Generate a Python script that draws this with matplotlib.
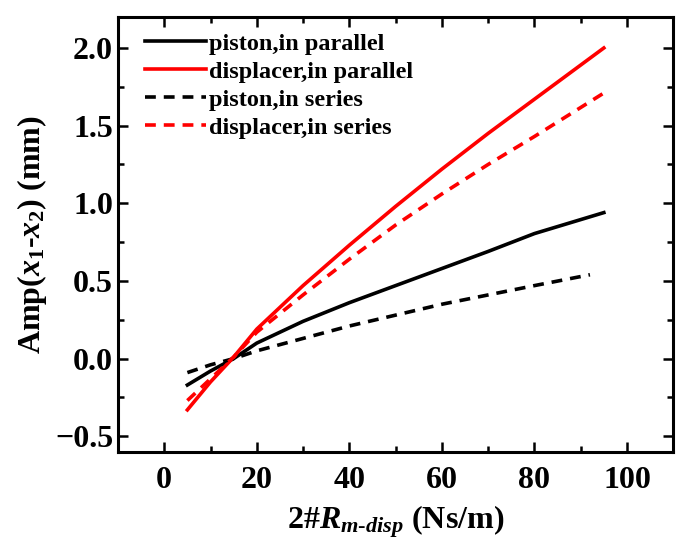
import matplotlib
matplotlib.use('Agg')
import matplotlib.pyplot as plt
from matplotlib.ticker import MultipleLocator, FuncFormatter

plt.rcParams['font.family'] = ['Liberation Serif', 'DejaVu Serif']
plt.rcParams['font.weight'] = 'bold'
plt.rcParams['mathtext.fontset'] = 'custom'
plt.rcParams['mathtext.rm'] = 'Liberation Serif:bold'
plt.rcParams['mathtext.it'] = 'Liberation Serif:bold:italic'
plt.rcParams['mathtext.bf'] = 'Liberation Serif:bold'

# damping coefficient of displacer 2# (Ns/m)
r_disp = [5, 10, 15, 20, 30, 40, 50, 60, 70, 80, 95]
r_piston_series = [5, 10, 15, 20, 30, 40, 50, 60, 70, 80, 92]
piston_parallel = [-0.17, -0.08, 0.0, 0.1, 0.24, 0.36, 0.47, 0.58, 0.69, 0.805, 0.94]
displacer_parallel = [-0.33, -0.15, 0.01, 0.19, 0.47, 0.73, 0.98, 1.22, 1.45, 1.67, 2.0]
piston_series = [-0.09, -0.04, 0.0, 0.05, 0.13, 0.21, 0.28, 0.35, 0.41, 0.47, 0.54]
displacer_series = [-0.27, -0.13, 0.01, 0.17, 0.41, 0.64, 0.86, 1.06, 1.25, 1.43, 1.71]

fig = plt.figure(figsize=(6.78, 5.45), dpi=100)
ax = fig.add_axes([0.174, 0.171, 0.819, 0.798])

dash = (0, (3, 2.2))
ax.plot(r_disp, piston_parallel, color='black', lw=2.6, label='piston,in parallel')
ax.plot(r_disp, displacer_parallel, color='red', lw=2.6, label='displacer,in parallel')
ax.plot(r_piston_series, piston_series, color='black', lw=2.6, ls=dash, label='piston,in series')
ax.plot(r_disp, displacer_series, color='red', lw=2.6, ls=dash, label='displacer,in series')

ax.set_xlim(-10, 110)
ax.set_ylim(-0.6, 2.2)
ax.xaxis.set_major_locator(MultipleLocator(20))
ax.xaxis.set_minor_locator(MultipleLocator(10))
ax.yaxis.set_major_locator(MultipleLocator(0.5))
ax.yaxis.set_minor_locator(MultipleLocator(0.25))
ax.tick_params(which='both', direction='in', top=True, right=True, width=1.8, labelsize=23)
ax.tick_params(which='major', length=7)
ax.tick_params(which='minor', length=4)
ax.tick_params(axis='x', pad=10)
for spine in ax.spines.values():
    spine.set_linewidth(2.2)

ax.yaxis.set_major_formatter(FuncFormatter(lambda v, p: f'{v:.1f}'.replace('-', '\u2212')))

ax.set_xlabel(r'2#$\mathit{R}_{\mathit{m\text{-}disp}}$ (Ns/m)', fontsize=23, fontweight='bold', labelpad=6)
ax.set_ylabel(r'Amp($\mathit{x}_{\mathit{1}}$-$\mathit{x}_{\mathit{2}}$) (mm)', fontsize=23,
              fontweight='bold', labelpad=4)

ax.legend(loc='upper left', bbox_to_anchor=(0.031, 0.986), borderaxespad=0, frameon=False,
          handlelength=2.5, handletextpad=0.15, labelspacing=0.25,
          prop={'weight': 'bold', 'size': 17.5})

fig.savefig('out.png', dpi=100)
